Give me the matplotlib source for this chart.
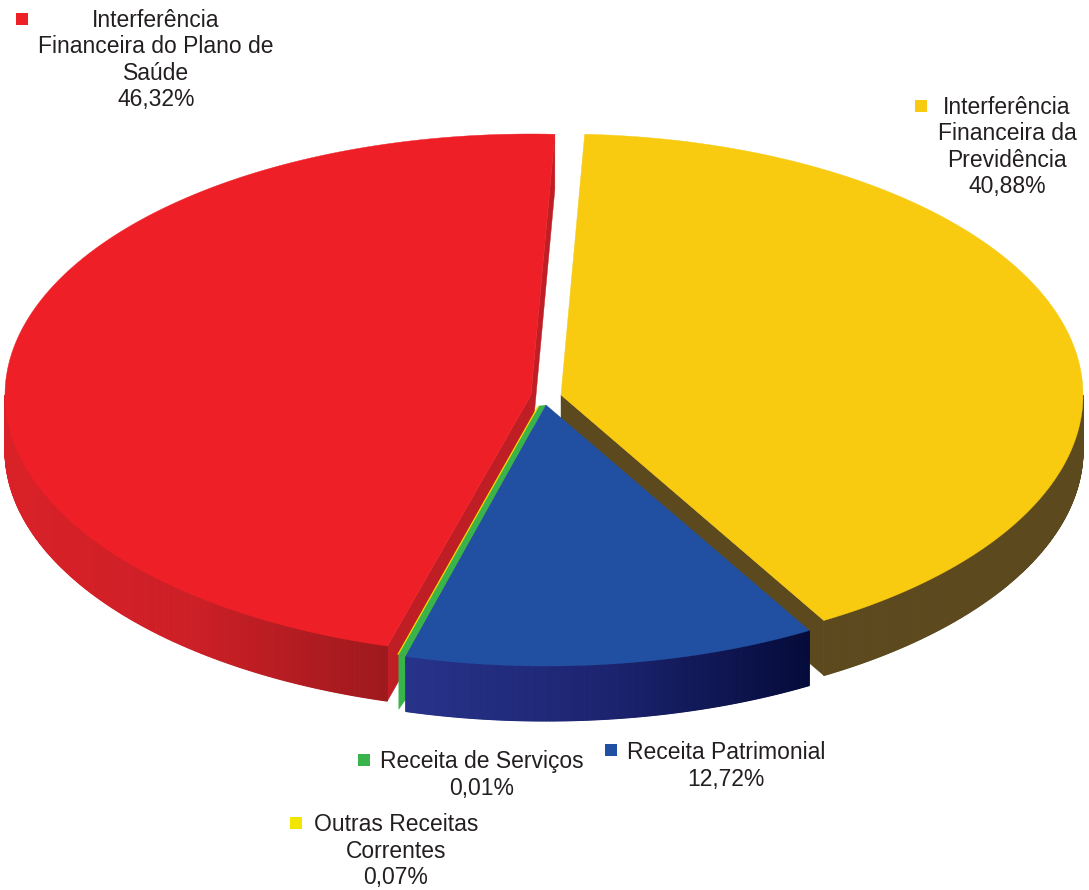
import numpy as np
import matplotlib
matplotlib.use('Agg')
from matplotlib import pyplot as plt
from matplotlib.colors import LinearSegmentedColormap
from matplotlib.patches import Polygon, Rectangle

plt.rcParams['font.family'] = ['Liberation Sans', 'DejaVu Sans']

# dados, no sentido horario a partir do topo
labels = ['Interferência\nFinanceira da\nPrevidência',
          'Receita Patrimonial',
          'Receita de Serviços',
          'Outras Receitas\nCorrentes',
          'Interferência\nFinanceira do Plano de\nSaúde']
values = [40.88, 12.72, 0.01, 0.07, 46.32]
value_text = ['40,88%', '12,72%', '0,01%', '0,07%', '46,32%']
colors = ['#F8CA10', '#2150A2', '#38B44A', '#F2E500', '#EE1F26']

label_x = [1007, 726, 482, 396, 156]
label_y = [147, 766, 775, 851, 60]
marker_x = [921, 611, 364, 296, 22]
marker_y = [106, 750, 760, 823, 19]

# geometria da pizza em pixels
B = 261
DEPTH = 55
START = 87.4
YELLOW_C, YELLOW_A = (561, 395), 522
BLUE_C, BLUE_A = (546, 405), 523
RED_C, RED_A = (531, 395), 526
GREEN_W = 7
THIN_W = 1.3

fig = plt.figure(figsize=(10.89, 8.9), dpi=100)
ax = fig.add_axes([0, 0, 1, 1])
ax.set_xlim(0, 1089)
ax.set_ylim(890, 0)
ax.axis('off')

fracs = np.array(values) / sum(values) * 360
ends = START - np.cumsum(fracs)
starts = ends + fracs


def rim(c, a, t):
    t = np.radians(t)
    return np.column_stack([c[0] + a * np.cos(t), c[1] - B * np.sin(t)])


def face(c, a, t1, t2, color, z=3):
    pts = rim(c, a, np.linspace(t1, t2, 300))
    ax.add_patch(Polygon(np.vstack([[c], pts]), fc=color, ec=color, lw=0.3, zorder=z))


def wall(p, q, color, z=1):
    p, q = np.array(p, float), np.array(q, float)
    d = np.array([0, DEPTH])
    ax.add_patch(Polygon([p, q, q + d, p + d], fc=color, ec=color, lw=0.3, zorder=z))


def side(c, a, t1, t2, cmap, x0, x1, z=1):
    ts = np.linspace(t1, t2, 300)
    pts = rim(c, a, ts)
    for i in range(len(ts) - 1):
        col = cmap(np.clip((pts[i, 0] - x0) / (x1 - x0), 0, 1)) if cmap is not None else '#5C491E'
        quad = [pts[i], pts[i + 1], pts[i + 1] + [0, DEPTH], pts[i] + [0, DEPTH]]
        ax.add_patch(Polygon(quad, fc=col, ec=col, lw=0.8, zorder=z))


red_side = LinearSegmentedColormap.from_list('r', ['#DA2128', '#CC1F26', '#9E191D'])
blue_side = LinearSegmentedColormap.from_list('b', ['#27338A', '#1C2470', '#050B3A'])

# amarelo
y_start, y_end = starts[0], ends[0]
wall(YELLOW_C, rim(YELLOW_C, YELLOW_A, [y_end])[0], '#5C491E')
side(YELLOW_C, YELLOW_A, y_end, 0, None, 0, 1)

# vermelho (de r_top, no alto, ate r_low, embaixo)
r_low, r_top = starts[4], ends[4]
wall(RED_C, rim(RED_C, RED_A, [r_low])[0], '#BF1E24')
wall(RED_C, rim(RED_C, RED_A, [r_top])[0], '#BF1E24')
side(RED_C, RED_A, -180, r_low, red_side, 5, 385)

# fatias minimas: faixas ao longo da borda esquerda do azul
b_start, b_end = starts[1], ends[1]
edge = rim(BLUE_C, BLUE_A, [b_end])[0]
apex = np.array(BLUE_C, float)
green = [apex - [GREEN_W, -1], edge - [GREEN_W, 2], edge, apex]
ax.add_patch(Polygon(green, fc=colors[2], ec=colors[2], lw=0.2, zorder=4))
thin = [green[0] - [THIN_W, 0], green[1] - [THIN_W, 0], green[1], green[0]]
ax.add_patch(Polygon(thin, fc=colors[3], ec=colors[3], lw=0.1, zorder=4))
front = [green[1], edge, edge + [0, DEPTH - 12], green[1] + [0, DEPTH]]
ax.add_patch(Polygon(front, fc=colors[2], ec=colors[2], lw=0.2, zorder=2))

# azul
side(BLUE_C, BLUE_A, b_end, b_start, blue_side, edge[0], rim(BLUE_C, BLUE_A, [b_start])[0, 0], z=2)

face(YELLOW_C, YELLOW_A, y_start, y_end, colors[0])
face(BLUE_C, BLUE_A, b_start, b_end, colors[1], z=5)
face(RED_C, RED_A, r_low, r_top, colors[4])

for i in range(len(labels)):
    ax.text(label_x[i], label_y[i], labels[i] + '\n' + value_text[i], ha='center', va='center',
            fontsize=16.5, linespacing=1.19, color='#231F20', zorder=6)
    ax.add_patch(Rectangle((marker_x[i] - 6, marker_y[i] - 6), 12, 12,
                           fc=colors[i], ec='none', zorder=6))

plt.savefig('out.png', dpi=100)
